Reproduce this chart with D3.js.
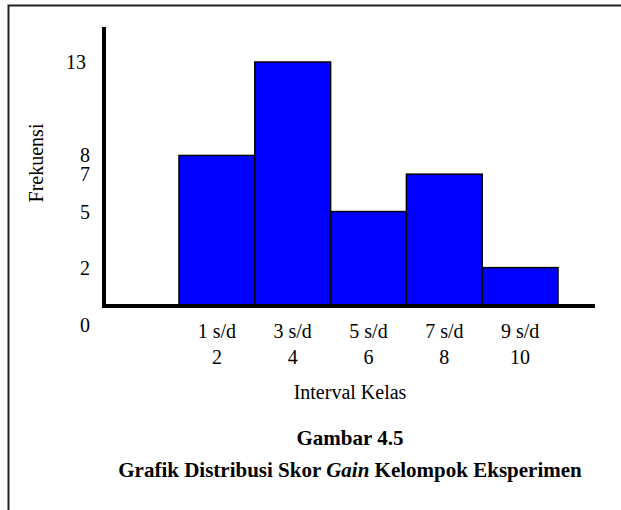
<!DOCTYPE html>
<html>
<head>
<meta charset="utf-8">
<script src="https://cdn.jsdelivr.net/npm/d3@7"></script>
<style>
  body { margin: 0; background: #fff; }
  svg { display: block; font-family: "Liberation Serif", "Times New Roman", serif; }
</style>
</head>
<body>
<div id="container"></div>
<script>
// data
const intervals = ['1 s/d|2', '3 s/d|4', '5 s/d|6', '7 s/d|8', '9 s/d|10']
const frekuensi = [8, 13, 5, 7, 2]
const yTicks = [13, 8, 7, 5, 2, 0]

const width = 621
const height = 510

const svg = d3.select('#container').append('svg')
    .attr('width', width).attr('height', height)

// frame around the figure
svg.append('path')
    .attr('d', `M8.5,${height + 5} V5.5 H${width + 5}`)
    .attr('fill', 'none')
    .attr('stroke', '#222')
    .attr('stroke-width', 2)

const yScale = d3.scaleLinear()
    .domain([0, 13])
    .range([305, 62])

const xScale = d3.scaleBand()
    .domain(intervals)
    .range([179, 558])
    .paddingInner(0)

// bars
svg.append('g').selectAll('rect')
    .data(frekuensi)
    .enter()
    .append('rect')
    .attr('x', (d, i) => xScale(intervals[i]))
    .attr('y', d => yScale(d))
    .attr('width', xScale.bandwidth())
    .attr('height', d => yScale(0) - yScale(d))
    .attr('fill', '#0000ff')
    .attr('stroke', '#000')
    .attr('stroke-width', 1.5)

// axes (thick lines)
svg.append('line')
    .attr('x1', 104).attr('x2', 104)
    .attr('y1', 27).attr('y2', yScale(0) + 3)
    .attr('stroke', '#000').attr('stroke-width', 4)

svg.append('line')
    .attr('x1', 102).attr('x2', 595)
    .attr('y1', yScale(0) + 1).attr('y2', yScale(0) + 1)
    .attr('stroke', '#000').attr('stroke-width', 4)

// y tick labels ("0" sits below the axis line)
svg.append('g').selectAll('text')
    .data(yTicks)
    .enter()
    .append('text')
    .attr('x', d => d >= 10 ? 86 : 90)
    .attr('y', d => d === 0 ? yScale(0) + 20 : yScale(d))
    .attr('dy', '0.35em')
    .attr('text-anchor', 'end')
    .attr('font-size', 20)
    .text(d => d)

// x tick labels, two lines each
const xl = svg.append('g').selectAll('text')
    .data(intervals)
    .enter()
    .append('text')
    .attr('text-anchor', 'middle')
    .attr('font-size', 20)

xl.append('tspan')
    .attr('x', d => xScale(d) + xScale.bandwidth() / 2)
    .attr('y', yScale(0) + 33)
    .text(d => d.split('|')[0])
xl.append('tspan')
    .attr('x', d => xScale(d) + xScale.bandwidth() / 2)
    .attr('y', yScale(0) + 59)
    .text(d => d.split('|')[1])

// axis titles
svg.append('text')
    .attr('x', 350).attr('y', 399)
    .attr('text-anchor', 'middle')
    .attr('font-size', 20)
    .text('Interval Kelas')

svg.append('text')
    .attr('transform', 'translate(43,163) rotate(-90)')
    .attr('text-anchor', 'middle')
    .attr('font-size', 20)
    .text('Frekuensi')

// caption
svg.append('text')
    .attr('x', 350).attr('y', 445)
    .attr('text-anchor', 'middle')
    .attr('font-size', 21)
    .attr('font-weight', 'bold')
    .text('Gambar 4.5')

const cap = svg.append('text')
    .attr('x', 350).attr('y', 477)
    .attr('text-anchor', 'middle')
    .attr('font-size', 21)
    .attr('font-weight', 'bold')
cap.append('tspan').text('Grafik Distribusi Skor ')
cap.append('tspan').attr('font-style', 'italic').text('Gain')
cap.append('tspan').text(' Kelompok Eksperimen')
</script>
</body>
</html>
